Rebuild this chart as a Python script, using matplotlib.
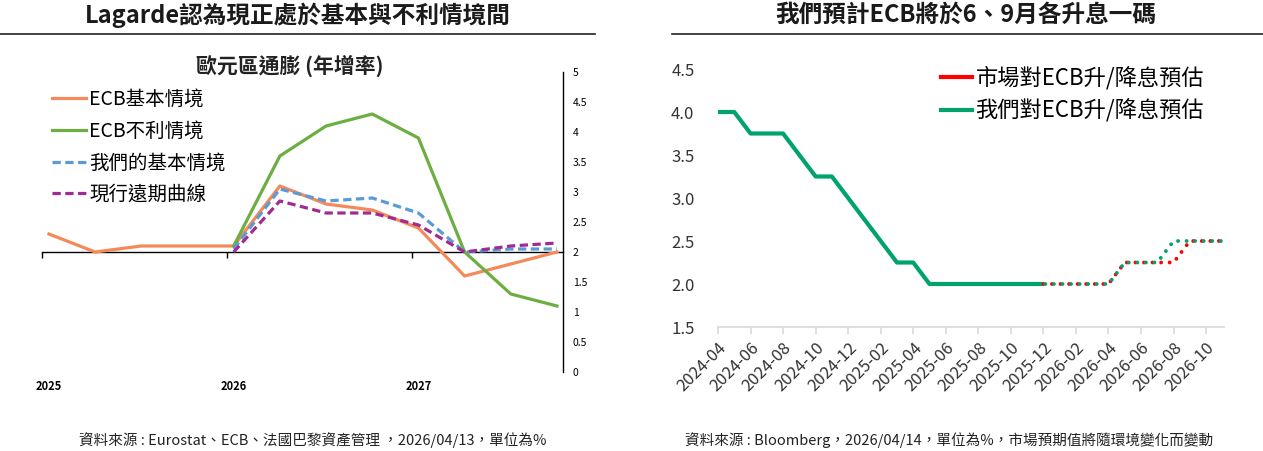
import numpy as np
import matplotlib
matplotlib.use('Agg')
import matplotlib.pyplot as plt
from matplotlib.lines import Line2D

plt.rcParams['font.family'] = ['Noto Sans CJK TC', 'DejaVu Sans']

# ---- 左圖：歐元區通膨 (年增率)，季資料 2025Q1 ~ 2027Q4 ----
nan = np.nan
year_labels = ['2025', '2026', '2027']
ecb_base = [2.3, 2.0, 2.1, 2.1, 2.1, 3.1, 2.8, 2.7, 2.4, 1.6, 1.8, 2.0]
ecb_adverse = [nan, nan, nan, nan, 2.1, 3.6, 4.1, 4.3, 3.9, 2.0, 1.3, 1.1]
our_base = [nan, nan, nan, nan, 2.05, 3.05, 2.85, 2.9, 2.65, 2.0, 2.05, 2.05]
fwd_curve = [nan, nan, nan, nan, 2.0, 2.85, 2.65, 2.65, 2.45, 2.0, 2.1, 2.15]

# ---- 右圖：ECB 存款利率，月資料 2024-04 ~ 2026-11 ----
month_labels = ['2024-04', '2024-06', '2024-08', '2024-10', '2024-12',
                '2025-02', '2025-04', '2025-06', '2025-08', '2025-10',
                '2025-12', '2026-02', '2026-04', '2026-06', '2026-08', '2026-10']
rate_actual = [4.0, 4.0, 3.75, 3.75, 3.75, 3.5, 3.25, 3.25, 3.0, 2.75, 2.5,
               2.25, 2.25, 2.0, 2.0, 2.0, 2.0, 2.0, 2.0, 2.0, 2.0]
rate_market = [2.0, 2.0, 2.0, 2.0, 2.0, 2.25, 2.25, 2.25, 2.25, 2.5, 2.5, 2.5]
rate_ours = [2.0, 2.0, 2.0, 2.0, 2.0, 2.25, 2.25, 2.25, 2.5, 2.5, 2.5, 2.5]

W, H = 1263, 451
fig = plt.figure(figsize=(W / 100, H / 100), dpi=100)

# 標題與分隔線
fig.text(298 / W, 1 - 15 / H, 'Lagarde認為現正處於基本與不利情境間', ha='center', va='center',
         fontsize=17, fontweight='bold', color='#1a1a1a')
fig.text(966 / W, 1 - 15 / H, '我們預計ECB將於6、9月各升息一碼', ha='center', va='center',
         fontsize=17, fontweight='bold', color='#1a1a1a')
fig.add_artist(Line2D([0, 595 / W], [1 - 34 / H] * 2, color='#222222', lw=1.2))
fig.add_artist(Line2D([672 / W, 1], [1 - 34 / H] * 2, color='#222222', lw=1.2))

# ---------- 左圖 ----------
ax1 = fig.add_axes([42 / W, 1 - 372 / H, (563 - 42) / W, 300 / H])
q = np.arange(len(ecb_base))
ax1.plot(q, ecb_base, color='#F5895A', lw=2.3, label='ECB基本情境')
ax1.plot(q, ecb_adverse, color='#6DAE42', lw=2.3, label='ECB不利情境')
ax1.plot(q, our_base, color='#5B9BD5', lw=2.3, linestyle=(0, (2.6, 1.4)), label='我們的基本情境')
ax1.plot(q, fwd_curve, color='#A02B93', lw=2.3, linestyle=(0, (2.6, 1.4)), label='現行遠期曲線')

ax1.set_xlim(-0.15, 11.13)
ax1.set_ylim(0, 5)
for s in ['top', 'left', 'bottom']:
    ax1.spines[s].set_visible(False)
ax1.spines['right'].set_color('black')
ax1.spines['right'].set_linewidth(1.0)
ax1.yaxis.tick_right()
ax1.set_yticks(np.arange(0, 5.01, 0.5))
ax1.set_yticklabels(['0', '0.5', '1', '1.5', '2', '2.5', '3', '3.5', '4', '4.5', '5'])
ax1.tick_params(axis='y', length=0, pad=7, labelsize=7.5)
ax1.set_xticks([0, 4, 8])
ax1.set_xticklabels(year_labels, fontsize=8, fontweight='bold')
ax1.tick_params(axis='x', length=0, pad=6)

# 類別軸畫在 y=2 的位置
sec = ax1.secondary_xaxis(0.4)
sec.set_xticks([-0.15, 3.85, 7.85])
sec.set_xticklabels([])
sec.tick_params(direction='out', length=4, color='black', width=1)
sec.spines['bottom'].set_color('black')
sec.spines['bottom'].set_linewidth(1.0)

fig.text(290 / W, 1 - 66 / H, '歐元區通膨 (年增率)', ha='center', va='center',
         fontsize=15, fontweight='bold', color='#222222')
ax1.legend(loc='upper left', bbox_to_anchor=(52 / W, 1 - 89 / H), bbox_transform=fig.transFigure,
           frameon=False, fontsize=14, handlelength=1.75, handletextpad=0.15,
           labelspacing=0.55, borderpad=0, borderaxespad=0)

# ---------- 右圖 ----------
ax2 = fig.add_axes([718 / W, 1 - 327 / H, (1224 - 718) / W, (327 - 69) / H])
m_act = np.arange(len(rate_actual))
m_fc = np.arange(len(rate_actual) - 1, len(rate_actual) - 1 + len(rate_market))
ax2.plot(m_act, rate_actual, color='#00A36C', lw=3, solid_capstyle='butt')
ax2.plot(m_fc, rate_market, color='#FF0000', lw=2.8, linestyle=(0, (0.001, 2.2)),
         dash_capstyle='round')
ax2.plot(m_fc, rate_ours, color='#00A36C', lw=2.8, linestyle=(1.7, (0.001, 2.2)),
         dash_capstyle='round')

ax2.set_xlim(0, 31.1)
ax2.set_ylim(1.5, 4.5)
for s in ['top', 'left', 'right']:
    ax2.spines[s].set_visible(False)
ax2.spines['bottom'].set_color('#D9D9D9')
ax2.spines['bottom'].set_linewidth(1.2)
ax2.set_yticks([1.5, 2.0, 2.5, 3.0, 3.5, 4.0, 4.5])
ax2.set_yticklabels(['1.5', '2.0', '2.5', '3.0', '3.5', '4.0', '4.5'])
ax2.tick_params(axis='y', length=0, pad=17, labelsize=12, labelcolor='#333333')
ax2.set_xticks(np.arange(0, 31, 2))
ax2.set_xticklabels(month_labels, rotation=45, ha='right', rotation_mode='anchor')
ax2.tick_params(axis='x', direction='out', length=5, color='#D9D9D9', width=1.2,
                pad=4, labelsize=12, labelcolor='#333333')

handles = [Line2D([], [], color='#FF0000', lw=3), Line2D([], [], color='#00A36C', lw=3)]
ax2.legend(handles, ['市場對ECB升/降息預估', '我們對ECB升/降息預估'], loc='upper left',
           bbox_to_anchor=(941 / W, 1 - 66 / H), bbox_transform=fig.transFigure,
           frameon=False, fontsize=16, handlelength=1.4, handletextpad=0.15,
           labelspacing=0.42, borderpad=0, borderaxespad=0)

# 資料來源
fig.text(313 / W, 1 - 440 / H, '資料來源 : Eurostat、ECB、法國巴黎資產管理 ，2026/04/13，單位為%',
         ha='center', va='center', fontsize=10.5, color='#222222')
fig.text(949 / W, 1 - 440 / H, '資料來源 : Bloomberg，2026/04/14，單位為%，市場預期值將隨環境變化而變動',
         ha='center', va='center', fontsize=10.5, color='#222222')

fig.savefig('out.png', dpi=100)
